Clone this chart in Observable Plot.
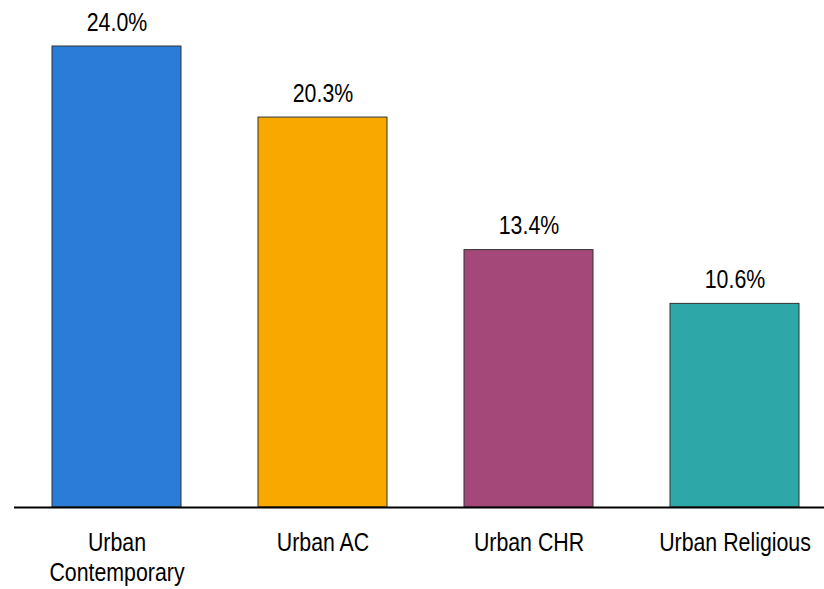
<!DOCTYPE html>
<html><head><meta charset="utf-8">
<script src="https://cdn.jsdelivr.net/npm/d3@7"></script>
<script src="https://cdn.jsdelivr.net/npm/@observablehq/plot@0.6"></script>
<style>
body{margin:0;background:#fff;}
</style></head>
<body><div id="chart"></div>
<script>
const categories = ["Urban Contemporary", "Urban AC", "Urban CHR", "Urban Religious"];
const tickLabels = ["Urban\nContemporary", "Urban AC", "Urban CHR", "Urban Religious"];
const values = [24.0, 20.3, 13.4, 10.6];
const colors = ["#2B7BD8", "#F9A800", "#A44879", "#2EA7A8"];

const data = categories.map((c, i) => ({cat: c, value: values[i], label: values[i].toFixed(1) + "%"}));

const chart = Plot.plot({
  width: 824,
  height: 589,
  marginLeft: 14,
  marginRight: 0,
  marginTop: 46,
  marginBottom: 82,
  style: {fontFamily: '"Liberation Sans",Arial,sans-serif', fontSize: "26px", color: "#000", background: "#fff"},
  x: {domain: categories, range: [27, 824], paddingInner: 0.376, paddingOuter: 0.116, label: null},
  y: {domain: [0, 24], axis: null},
  color: {domain: categories, range: colors},
  marks: [
    Plot.barY(data, {x: "cat", y: "value", fill: "cat", stroke: "#333", strokeWidth: 1}),
    Plot.text(data, {x: "cat", y: "value", text: "label", dy: -24, fontSize: 26, fill: "#000"}),
    Plot.ruleY([0], {stroke: "#000", strokeWidth: 2}),
    Plot.axisX({tickSize: 0, tickPadding: 22, fontSize: 26, lineHeight: 1.15, label: null,
      tickFormat: d => tickLabels[categories.indexOf(d)]})
  ]
});
document.getElementById("chart").appendChild(chart);
// condense text horizontally to mimic a narrow typeface
chart.querySelectorAll("text").forEach(t => {
  const spans = t.querySelectorAll("tspan");
  const els = spans.length ? Array.from(spans) : [t];
  els.forEach(el => {
    const w = el.getComputedTextLength();
    if (w > 0) {
      el.setAttribute("textLength", (w * 0.82).toFixed(1));
      el.setAttribute("lengthAdjust", "spacingAndGlyphs");
    }
  });
});
</script></body></html>
